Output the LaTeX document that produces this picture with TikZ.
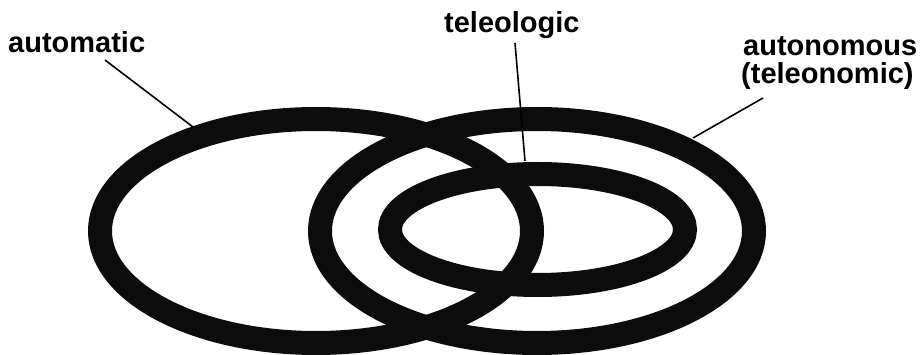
\documentclass[tikz,border=0pt]{standalone}
\usepackage{fontspec}
\setmainfont{Liberation Sans}
\begin{document}
\begin{tikzpicture}[x=1pt,y=-1pt,
  ring/.style={draw={rgb,255:red,12;green,12;blue,12}, line width=24pt},
  leader/.style={draw=black, line width=1.6pt},
  lbl/.style={inner sep=0pt, font=\fontsize{29}{26}\selectfont\bfseries, anchor=base west}]
\useasboundingbox (0,0) rectangle (921,355);
% rings
\draw[ring] (316,231) ellipse [x radius=216, y radius=112];
\draw[ring] (537,231) ellipse [x radius=217, y radius=112];
\draw[ring] (537.5,229.5) ellipse [x radius=147.5, y radius=55.5];
% labels
\node[lbl] (auto) at (8,53) {automatic};
\node[lbl] (tele) at (444,33) {teleologic};
\node[lbl] (auton) at (743,56) {autonomous};
\node[lbl] (telen) at (741,84) {(teleonomic)};
% leader endpoints
\coordinate (autoS) at (105,60);
\coordinate (autoE) at (193,127);
\coordinate (teleS) at (515,43);
\coordinate (teleE) at (525,161);
\coordinate (autonS) at (763,98);
\coordinate (autonE) at (693,138);
\draw[leader] (autoS) -- (autoE);
\draw[leader] (teleS) -- (teleE);
\draw[leader] (autonS) -- (autonE);
\end{tikzpicture}
\end{document}
